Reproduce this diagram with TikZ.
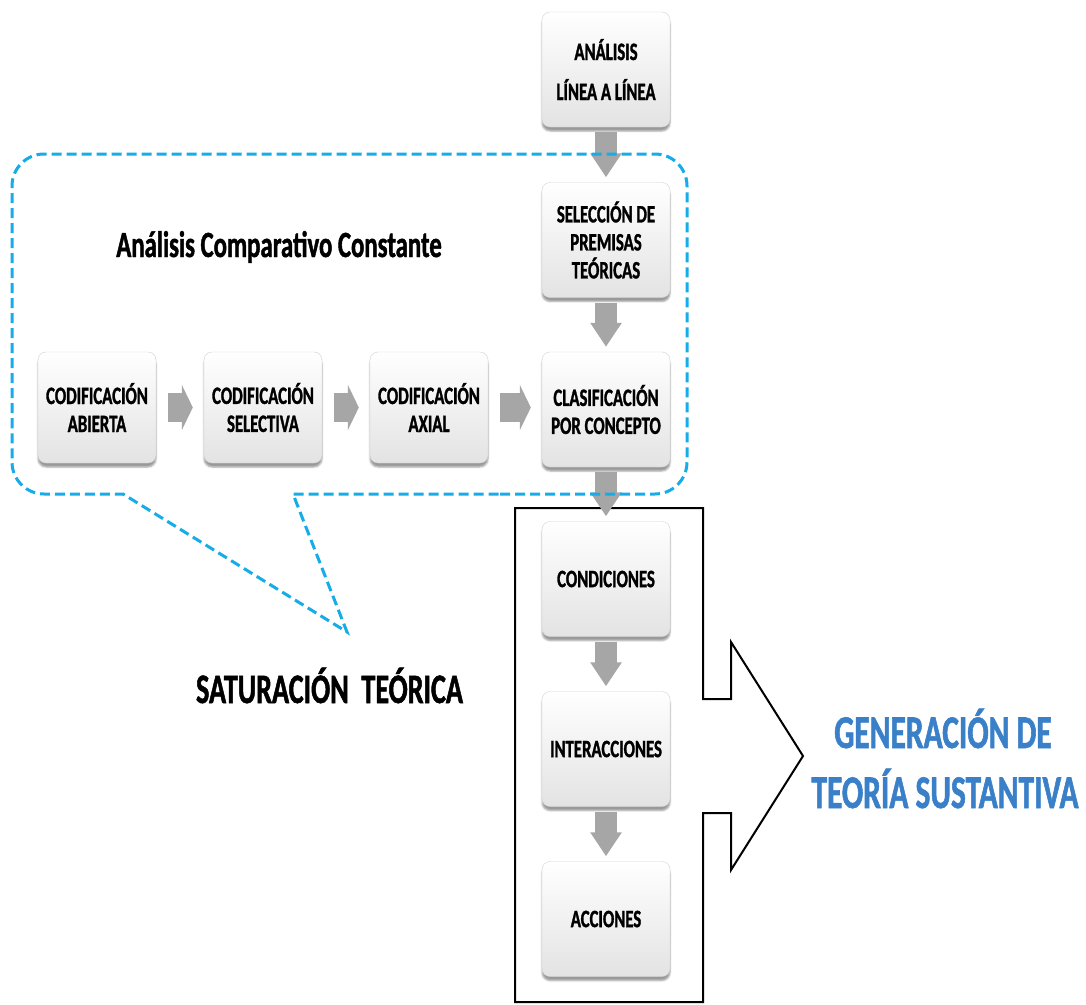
\documentclass[tikz,border=0pt]{standalone}
\usepackage{fontspec}
\usepackage{tikz}
\usetikzlibrary{arrows.meta}
\usetikzlibrary{shadows.blur}
\newfontfamily\cfont{Carlito}[FakeStretch=0.67, BoldFeatures={FakeBold=1.2}]
\definecolor{callblue}{RGB}{22,172,232}
\definecolor{genblue}{RGB}{58,128,200}
\tikzstyle{box}=[draw=gray!35, rounded corners=8pt, top color=white, bottom color=gray!22, blur shadow={shadow xshift=0pt, shadow yshift=-4pt, shadow opacity=40}, minimum width=128pt, minimum height=115pt, inner sep=0pt, align=center, font=\cfont\bfseries\fontsize{25}{28}\selectfont]
\tikzstyle{sbox}=[box, minimum width=118pt, minimum height=111pt]
\tikzstyle{vflow}=[draw=gray!70, line width=22pt, -{Triangle[length=24pt, width=30pt]}, shorten <=5pt, shorten >=5pt]
\tikzstyle{hflow}=[draw=gray!70, line width=29pt, -{Triangle[length=11pt, width=45pt]}, shorten <=12pt, shorten >=11pt]
\tikzstyle{callout}=[draw=callblue, line width=3pt, dash pattern=on 10pt off 5pt]

\begin{document}
\begin{tikzpicture}[x=1pt, y=-1pt]
        \useasboundingbox (0,0) rectangle (1086,1004);
        % big outlined arrow
        \draw[line width=2pt] (515,508) -- (703,508) -- (703,699) -- (731,699) -- (731,642) -- (803,756) -- (731,870) -- (731,813) -- (703,813) -- (703,1002) -- (515,1002) -- cycle;
        \node[box] (ana) at (606,69.5) {ANÁLISIS\\[12pt]LÍNEA A LÍNEA};
        \node[box] (sel) at (606,240) {SELECCIÓN DE\\PREMISAS\\TEÓRICAS};
        \node[box] (cla) at (606,409.5) {CLASIFICACIÓN\\POR CONCEPTO};
        \node[box] (con) at (606,579) {CONDICIONES};
        \node[box] (int) at (606,749) {INTERACCIONES};
        \node[box] (acc) at (606,919) {ACCIONES};
        \node[sbox] (abi) at (97,407.5) {CODIFICACIÓN\\ABIERTA};
        \node[sbox] (slv) at (263,407.5) {CODIFICACIÓN\\SELECTIVA};
        \node[sbox] (axi) at (429,407.5) {CODIFICACIÓN\\AXIAL};
        \draw[vflow] (ana.south) -- (sel.north);
        \draw[vflow] (sel.south) -- (cla.north);
        \draw[vflow] (cla.south) -- (con.north);
        \draw[vflow] (con.south) -- (int.north);
        \draw[vflow] (int.south) -- (acc.north);
        \draw[hflow] (abi.east) -- (slv.west);
        \draw[hflow] (slv.east) -- (axi.west);
        \draw[hflow] (axi.east) -- (axi.east -| cla.west);
        % dashed callout
        \draw[callout] (500,494) [rounded corners=32pt] -- (687,494) -- (687,154) -- (12,154) -- (12,494) -- (80,494) [sharp corners] -- (123,494) -- (347,632) -- (293,494) -- cycle;
        \node[anchor=base, font=\cfont\bfseries\fontsize{37}{44}\selectfont] (acc-title) at (279,257) {Análisis Comparativo Constante};
        \node[anchor=base, font=\cfont\bfseries\fontsize{42}{50}\selectfont] (sat) at (329.5,703) {SATURACIÓN~~TEÓRICA};
        \node[anchor=base, text=genblue, font=\cfont\bfseries\fontsize{47}{56}\selectfont] (gen1) at (943,748) {GENERACIÓN DE};
        \node[anchor=base, text=genblue, font=\cfont\bfseries\fontsize{47}{56}\selectfont] (gen2) at (945,808) {TEORÍA SUSTANTIVA};
    \end{tikzpicture}
\end{document}
